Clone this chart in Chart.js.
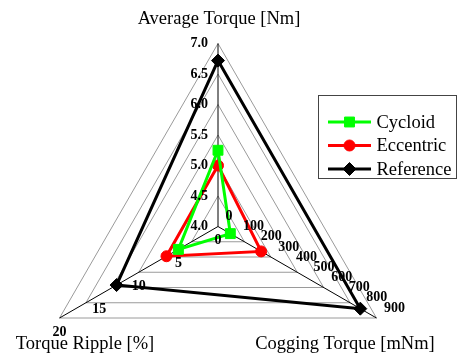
<!DOCTYPE html>
<html>
<head>
<meta charset="utf-8">
<script src="https://cdn.jsdelivr.net/npm/chart.js@4/dist/chart.umd.min.js"></script>
<style>
    html, body { margin: 0; padding: 0; background: #fff; }
    #wrap { width: 459px; height: 360px; position: relative; }
</style>
</head>
<body>
<div id="wrap"><canvas id="radar"></canvas></div>
<script>
// Each axis has its own scale; values are mapped onto a shared 0..6 radial scale.
const axisTitles = ['Average Torque [Nm]', 'Cogging Torque [mNm]', 'Torque Ripple [%]'];
const axisMin = [4, 0, 0];
const axisMax = [7, 900, 20];
const torqueTicks = ['4.0', '4.5', '5.0', '5.5', '6.0', '6.5', '7.0'];
const coggingTicks = ['0', '100', '200', '300', '400', '500', '600', '700', '800', '900'];
const rippleTicks = ['0', '5', '10', '15', '20'];

const seriesNames = ['Cycloid', 'Eccentric', 'Reference'];
const cycloid = [5.25, 70, 5.0];
const eccentric = [5.0, 245, 6.5];
const reference = [6.72, 808, 12.8];

const GRID_STEPS = 6;
const serif = '"Liberation Serif", "Times New Roman", serif';

function toRadial(axis, v) {
    return (v - axisMin[axis]) / (axisMax[axis] - axisMin[axis]) * GRID_STEPS;
}

function dataset(label, values, color, pointStyle, radius) {
    return {
        label,
        data: values.map((v, i) => toRadial(i, v)),
        borderColor: color,
        backgroundColor: color,
        pointBackgroundColor: color,
        pointBorderColor: color,
        borderWidth: 3,
        pointStyle,
        pointRadius: radius,
        pointBorderWidth: 1,
        fill: false,
        clip: false,
    };
}

const datasets = [
    dataset(seriesNames[0], cycloid, '#00ff00', 'rect', 7),
    dataset(seriesNames[1], eccentric, '#ff0000', 'circle', 5.5),
    dataset(seriesNames[2], reference, '#000000', 'rectRot', 6.5),
];

// Tick labels along each axis, plus axis titles and the boxed legend.
const axisDecor = {
    id: 'axisDecor',
    afterDraw(chart) {
        const { ctx } = chart;
        const r = chart.scales.r;
        ctx.save();
        ctx.fillStyle = '#000';
        ctx.font = 'bold 14px ' + serif;
        ctx.textBaseline = 'middle';

        ctx.textAlign = 'right';
        torqueTicks.forEach((t) => {
            const p = r.getPointPositionForValue(0, toRadial(0, parseFloat(t)));
            ctx.fillText(t, p.x - 10, p.y);
        });
        ctx.textAlign = 'left';
        coggingTicks.forEach((t) => {
            const p = r.getPointPositionForValue(1, toRadial(1, parseFloat(t)));
            ctx.fillText(t, p.x + 7.5, p.y - 10);
        });
        ctx.textAlign = 'center';
        rippleTicks.forEach((t) => {
            const p = r.getPointPositionForValue(2, toRadial(2, parseFloat(t)));
            ctx.fillText(t, p.x, p.y + 14);
        });

        ctx.font = '18.5px ' + serif;
        ctx.textBaseline = 'alphabetic';
        ctx.fillText(axisTitles[0], 219, 23.5);
        ctx.fillText(axisTitles[1], 345, 349);
        ctx.fillText(axisTitles[2], 85, 349);

        // legend
        ctx.strokeStyle = '#444';
        ctx.lineWidth = 1;
        ctx.strokeRect(318.5, 95.5, 138, 83);
        ctx.textAlign = 'left';
        ctx.textBaseline = 'middle';
        const rowY = [122, 145.5, 169];
        chart.data.datasets.forEach((ds, i) => {
            const y = rowY[i];
            ctx.strokeStyle = ds.borderColor;
            ctx.lineWidth = 3;
            ctx.beginPath();
            ctx.moveTo(328, y);
            ctx.lineTo(371, y);
            ctx.stroke();
            ctx.fillStyle = ds.borderColor;
            ctx.strokeStyle = ds.borderColor;
            ctx.lineWidth = 1;
            Chart.helpers.drawPoint(ctx, { pointStyle: ds.pointStyle, radius: ds.pointRadius, rotation: 0, borderWidth: 1 }, 349.5, y);
            ctx.fillStyle = '#000';
            ctx.fillText(ds.label, 376.5, y + 1);
        });
        ctx.restore();
    },
};

new Chart(document.getElementById('radar'), {
    type: 'radar',
    data: { labels: axisTitles, datasets },
    options: {
        responsive: true,
        maintainAspectRatio: false,
        animation: false,
        plugins: { legend: { display: false }, tooltip: { enabled: false } },
        elements: { line: { tension: 0 } },
        scales: {
            r: {
                min: 0,
                max: GRID_STEPS,
                ticks: { stepSize: 1, display: false },
                grid: { color: '#9a9a9a', lineWidth: 1 },
                angleLines: { color: '#000', lineWidth: 1 },
                pointLabels: { display: false },
                afterFit(scale) {
                    scale.xCenter = 218;
                    scale.yCenter = 226.5;
                    scale.drawingArea = 183;
                },
            },
        },
    },
    plugins: [axisDecor],
});
</script>
</body>
</html>
